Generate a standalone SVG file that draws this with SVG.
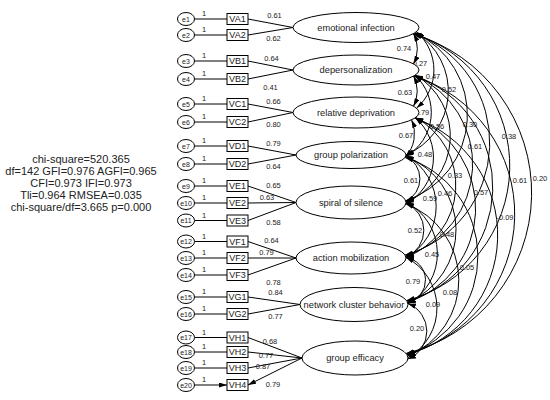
<svg xmlns="http://www.w3.org/2000/svg" width="550" height="400" viewBox="0 0 550 400">
<style>
text{font-family:"Liberation Sans",Arial,sans-serif;fill:#222}
.b{fill:#fff;stroke:#000;stroke-width:1}
.l{fill:none;stroke:#000;stroke-width:1}
.tl{font-size:9.3px;text-anchor:middle}
.tb{font-size:9px;text-anchor:middle}
.te{font-size:7px;text-anchor:middle}
.tn{font-size:7.5px;text-anchor:middle}
.fit{font-size:11px;text-anchor:middle}
</style>
<defs>
<marker id="ah" markerUnits="userSpaceOnUse" markerWidth="8" markerHeight="5" viewBox="0 0 8 5" refX="8" refY="2.5" orient="auto-start-reverse"><path d="M0,0L8,2.5L0,5z" fill="#000"/></marker>
</defs>
<rect width="550" height="400" fill="#fff"/>
<g id="fit">
<text class="fit" x="81" y="163">chi-square=520.365</text>
<text class="fit" x="81" y="175">df=142 GFI=0.976 AGFI=0.965</text>
<text class="fit" x="81" y="187">CFI=0.973 IFI=0.973</text>
<text class="fit" x="81" y="199">Tli=0.964 RMSEA=0.035</text>
<text class="fit" x="81" y="211">chi-square/df=3.665 p=0.000</text>
</g>
<g id="connectors" class="l">
<g marker-end="url(#ah)">
<path d="M194.5,19H227M194.5,35H227M194.5,61H227M194.5,79H227M194.5,104H227M194.5,122H227M194.5,146H227M194.5,164H227M194.5,186H227M194.5,203H227M194.5,220.5H227M194.5,241.5H227M194.5,258H227M194.5,275H227M194.5,297H227M194.5,314H227M194.5,337.5H227M194.5,352H227M194.5,368H227M194.5,385H227"/>
<path d="M293,27.5L248,19M293,27.5L248,35M293,70L248,61M293,70L248,79M293,112.5L248,104M293,112.5L248,122M296,155L248,146M296,155L248,164M296,202.5L248,186M296,202.5L248,203M296,202.5L248,220.5M296,258L248,241.5M296,258L248,258M296,258L248,275M300,304.5L248,297M300,304.5L248,314M302,358L248,337.5M302,358L248,352M302,358L248,368M302,358L248,385"/>
</g>
<g marker-start="url(#ah)" marker-end="url(#ah)">
<path d="M413.6,33.6A34.2,34.2 0 0 1 413.6,63.9"/>
<path d="M416.5,31.8A50.6,50.6 0 0 1 416.6,108.1"/>
<path d="M415.4,32.5A68.9,68.9 0 0 1 406,154.8"/>
<path d="M415,32.8A90.6,90.6 0 0 1 405.7,200.8"/>
<path d="M414,33.3A116.9,116.9 0 0 1 405.1,255.1"/>
<path d="M413.7,33.5A139.4,139.4 0 0 1 406.6,300.6"/>
<path d="M413,34A165.6,165.6 0 0 1 406,353.5"/>
<path d="M413.6,76.1A34.2,34.2 0 0 1 413.5,106.2"/>
<path d="M415,75.2A50.6,50.6 0 0 1 405.5,156.5"/>
<path d="M415.4,75A71.1,71.1 0 0 1 405.9,202.1"/>
<path d="M414.7,75.4A96.7,96.7 0 0 1 405.7,256"/>
<path d="M414.5,75.5A118.8,118.8 0 0 1 407,301.3"/>
<path d="M413.6,76A144.7,144.7 0 0 1 406.5,354"/>
<path d="M411.6,119.9A34.3,34.3 0 0 1 405.4,157"/>
<path d="M415.3,117.7A52.7,52.7 0 0 1 405.8,203.9"/>
<path d="M415.5,117.5A77,77 0 0 1 406.1,257.2"/>
<path d="M415.3,117.7A98.5,98.5 0 0 1 407.5,302.2"/>
<path d="M414.7,118.1A124.1,124.1 0 0 1 407,354.7"/>
<path d="M405.9,156A25.5,25.5 0 0 1 405.9,201.5"/>
<path d="M406,155.5A58.2,58.2 0 0 1 406,257.5"/>
<path d="M405.7,156.3A78.8,78.8 0 0 1 407.6,302.5"/>
<path d="M405,157.4A103.7,103.7 0 0 1 407,354.8"/>
<path d="M405.8,203A29.6,29.6 0 0 1 405.8,257.5"/>
<path d="M406,202.2A57.7,57.7 0 0 1 408,303.8"/>
<path d="M405.7,203.8A81.6,81.6 0 0 1 407.6,356"/>
<path d="M406,257.5A23.1,23.1 0 0 1 407.7,302.8"/>
<path d="M406,257.4A56.9,56.9 0 0 1 408,357.6"/>
<path d="M407.9,303.5A29.8,29.8 0 0 1 407.9,359"/>
</g>
</g>
<g id="labels">
<text class="tn" x="204" y="16">1</text><text class="tn" x="204" y="32">1</text><text class="tn" x="204" y="58">1</text><text class="tn" x="204" y="76">1</text><text class="tn" x="204" y="101">1</text><text class="tn" x="204" y="119">1</text><text class="tn" x="204" y="143">1</text><text class="tn" x="204" y="161">1</text><text class="tn" x="204" y="183">1</text><text class="tn" x="204" y="200">1</text><text class="tn" x="204" y="217.5">1</text><text class="tn" x="204" y="238.5">1</text><text class="tn" x="204" y="255">1</text><text class="tn" x="204" y="272">1</text><text class="tn" x="204" y="294">1</text><text class="tn" x="204" y="311">1</text><text class="tn" x="204" y="334.5">1</text><text class="tn" x="204" y="349">1</text><text class="tn" x="204" y="365">1</text><text class="tn" x="204" y="382">1</text>
<text class="tn" x="274.5" y="17.5">0.61</text><text class="tn" x="273.5" y="40.5">0.62</text><text class="tn" x="271.5" y="60.5">0.64</text><text class="tn" x="270.5" y="89.5">0.41</text><text class="tn" x="273.5" y="103.5">0.66</text><text class="tn" x="273.5" y="126.5">0.80</text><text class="tn" x="273.5" y="145.5">0.79</text><text class="tn" x="273.5" y="168.5">0.64</text><text class="tn" x="273.5" y="187.5">0.65</text><text class="tn" x="267" y="199.5">0.63</text><text class="tn" x="273.5" y="224.5">0.58</text><text class="tn" x="271.5" y="242.5">0.64</text><text class="tn" x="266.5" y="254.5">0.79</text><text class="tn" x="273.5" y="284.5">0.78</text><text class="tn" x="275.5" y="294.5">0.84</text><text class="tn" x="275.5" y="318.5">0.77</text><text class="tn" x="270" y="343.5">0.68</text><text class="tn" x="266" y="357.5">0.77</text><text class="tn" x="263" y="368.5">0.87</text><text class="tn" x="273" y="386.5">0.79</text>
<text class="tn" x="404" y="50.5">0.74</text><text class="tn" x="420" y="65.5">0.27</text><text class="tn" x="433" y="78.5">0.47</text><text class="tn" x="449" y="91.5">0.52</text><text class="tn" x="405" y="94.5">0.63</text><text class="tn" x="422" y="114.5">0.79</text><text class="tn" x="437" y="128.5">0.56</text><text class="tn" x="470" y="126.5">0.30</text><text class="tn" x="509" y="138.5">0.38</text><text class="tn" x="406" y="137.5">0.67</text><text class="tn" x="425" y="156.5">0.48</text><text class="tn" x="475" y="148.5">0.61</text><text class="tn" x="411" y="182.5">0.61</text><text class="tn" x="455" y="177.5">0.33</text><text class="tn" x="520" y="182.5">0.61</text><text class="tn" x="540" y="180.5">0.20</text><text class="tn" x="445" y="195.5">0.46</text><text class="tn" x="481" y="194.5">0.57</text><text class="tn" x="430" y="200.5">0.59</text><text class="tn" x="505" y="219.5">-0.09</text><text class="tn" x="415" y="232.5">0.52</text><text class="tn" x="447" y="236.5">0.48</text><text class="tn" x="432" y="256.5">0.45</text><text class="tn" x="467" y="269.5">0.05</text><text class="tn" x="413" y="283.5">0.79</text><text class="tn" x="450" y="294.5">0.08</text><text class="tn" x="433" y="306.5">0.09</text><text class="tn" x="417" y="330.5">0.20</text>
</g>
<g id="e1"><ellipse class="b" cx="186" cy="19" rx="8.5" ry="6.5"/><text class="te" x="186" y="21.5">e1</text></g>
<g id="e2"><ellipse class="b" cx="186" cy="35" rx="8.5" ry="6.5"/><text class="te" x="186" y="37.5">e2</text></g>
<g id="e3"><ellipse class="b" cx="186" cy="61" rx="8.5" ry="6.5"/><text class="te" x="186" y="63.5">e3</text></g>
<g id="e4"><ellipse class="b" cx="186" cy="79" rx="8.5" ry="6.5"/><text class="te" x="186" y="81.5">e4</text></g>
<g id="e5"><ellipse class="b" cx="186" cy="104" rx="8.5" ry="6.5"/><text class="te" x="186" y="106.5">e5</text></g>
<g id="e6"><ellipse class="b" cx="186" cy="122" rx="8.5" ry="6.5"/><text class="te" x="186" y="124.5">e6</text></g>
<g id="e7"><ellipse class="b" cx="186" cy="146" rx="8.5" ry="6.5"/><text class="te" x="186" y="148.5">e7</text></g>
<g id="e8"><ellipse class="b" cx="186" cy="164" rx="8.5" ry="6.5"/><text class="te" x="186" y="166.5">e8</text></g>
<g id="e9"><ellipse class="b" cx="186" cy="186" rx="8.5" ry="6.5"/><text class="te" x="186" y="188.5">e9</text></g>
<g id="e10"><ellipse class="b" cx="186" cy="203" rx="8.5" ry="6.5"/><text class="te" x="186" y="205.5">e10</text></g>
<g id="e11"><ellipse class="b" cx="186" cy="220.5" rx="8.5" ry="6.5"/><text class="te" x="186" y="223">e11</text></g>
<g id="e12"><ellipse class="b" cx="186" cy="241.5" rx="8.5" ry="6.5"/><text class="te" x="186" y="244">e12</text></g>
<g id="e13"><ellipse class="b" cx="186" cy="258" rx="8.5" ry="6.5"/><text class="te" x="186" y="260.5">e13</text></g>
<g id="e14"><ellipse class="b" cx="186" cy="275" rx="8.5" ry="6.5"/><text class="te" x="186" y="277.5">e14</text></g>
<g id="e15"><ellipse class="b" cx="186" cy="297" rx="8.5" ry="6.5"/><text class="te" x="186" y="299.5">e15</text></g>
<g id="e16"><ellipse class="b" cx="186" cy="314" rx="8.5" ry="6.5"/><text class="te" x="186" y="316.5">e16</text></g>
<g id="e17"><ellipse class="b" cx="186" cy="337.5" rx="8.5" ry="6.5"/><text class="te" x="186" y="340">e17</text></g>
<g id="e18"><ellipse class="b" cx="186" cy="352" rx="8.5" ry="6.5"/><text class="te" x="186" y="354.5">e18</text></g>
<g id="e19"><ellipse class="b" cx="186" cy="368" rx="8.5" ry="6.5"/><text class="te" x="186" y="370.5">e19</text></g>
<g id="e20"><ellipse class="b" cx="186" cy="385" rx="8.5" ry="6.5"/><text class="te" x="186" y="387.5">e20</text></g>
<g id="VA1"><rect class="b" x="227" y="13.5" width="21" height="11"/><text class="tb" x="237.5" y="22.2">VA1</text></g>
<g id="VA2"><rect class="b" x="227" y="29.5" width="21" height="11"/><text class="tb" x="237.5" y="38.2">VA2</text></g>
<g id="VB1"><rect class="b" x="227" y="55.5" width="21" height="11"/><text class="tb" x="237.5" y="64.2">VB1</text></g>
<g id="VB2"><rect class="b" x="227" y="73.5" width="21" height="11"/><text class="tb" x="237.5" y="82.2">VB2</text></g>
<g id="VC1"><rect class="b" x="227" y="98.5" width="21" height="11"/><text class="tb" x="237.5" y="107.2">VC1</text></g>
<g id="VC2"><rect class="b" x="227" y="116.5" width="21" height="11"/><text class="tb" x="237.5" y="125.2">VC2</text></g>
<g id="VD1"><rect class="b" x="227" y="140.5" width="21" height="11"/><text class="tb" x="237.5" y="149.2">VD1</text></g>
<g id="VD2"><rect class="b" x="227" y="158.5" width="21" height="11"/><text class="tb" x="237.5" y="167.2">VD2</text></g>
<g id="VE1"><rect class="b" x="227" y="180.5" width="21" height="11"/><text class="tb" x="237.5" y="189.2">VE1</text></g>
<g id="VE2"><rect class="b" x="227" y="197.5" width="21" height="11"/><text class="tb" x="237.5" y="206.2">VE2</text></g>
<g id="VE3"><rect class="b" x="227" y="215" width="21" height="11"/><text class="tb" x="237.5" y="223.7">VE3</text></g>
<g id="VF1"><rect class="b" x="227" y="236" width="21" height="11"/><text class="tb" x="237.5" y="244.7">VF1</text></g>
<g id="VF2"><rect class="b" x="227" y="252.5" width="21" height="11"/><text class="tb" x="237.5" y="261.2">VF2</text></g>
<g id="VF3"><rect class="b" x="227" y="269.5" width="21" height="11"/><text class="tb" x="237.5" y="278.2">VF3</text></g>
<g id="VG1"><rect class="b" x="227" y="291.5" width="21" height="11"/><text class="tb" x="237.5" y="300.2">VG1</text></g>
<g id="VG2"><rect class="b" x="227" y="308.5" width="21" height="11"/><text class="tb" x="237.5" y="317.2">VG2</text></g>
<g id="VH1"><rect class="b" x="227" y="332" width="21" height="11"/><text class="tb" x="237.5" y="340.7">VH1</text></g>
<g id="VH2"><rect class="b" x="227" y="346.5" width="21" height="11"/><text class="tb" x="237.5" y="355.2">VH2</text></g>
<g id="VH3"><rect class="b" x="227" y="362.5" width="21" height="11"/><text class="tb" x="237.5" y="371.2">VH3</text></g>
<g id="VH4"><rect class="b" x="227" y="379.5" width="21" height="11"/><text class="tb" x="237.5" y="388.2">VH4</text></g>
<g id="L1"><ellipse class="b" cx="356" cy="27.5" rx="63" ry="15"/><text class="tl" x="356" y="30.8">emotional infection</text></g>
<g id="L2"><ellipse class="b" cx="356" cy="70" rx="63" ry="15"/><text class="tl" x="356" y="73.3">depersonalization</text></g>
<g id="L3"><ellipse class="b" cx="356" cy="112.5" rx="63" ry="15.5"/><text class="tl" x="356" y="115.8">relative deprivation</text></g>
<g id="L4"><ellipse class="b" cx="351" cy="155" rx="55" ry="13.5"/><text class="tl" x="351" y="158.3">group polarization</text></g>
<g id="L5"><ellipse class="b" cx="351" cy="202.5" rx="55" ry="16.5"/><text class="tl" x="351" y="205.8">spiral of silence</text></g>
<g id="L6"><ellipse class="b" cx="351" cy="258" rx="55" ry="16"/><text class="tl" x="351" y="261.3">action mobilization</text></g>
<g id="L7"><ellipse class="b" cx="354" cy="304.5" rx="54" ry="17"/><text class="tl" x="354" y="307.8">network cluster behavior</text></g>
<g id="L8"><ellipse class="b" cx="355" cy="358" rx="53" ry="17"/><text class="tl" x="355" y="361.3">group efficacy</text></g>
</svg>
